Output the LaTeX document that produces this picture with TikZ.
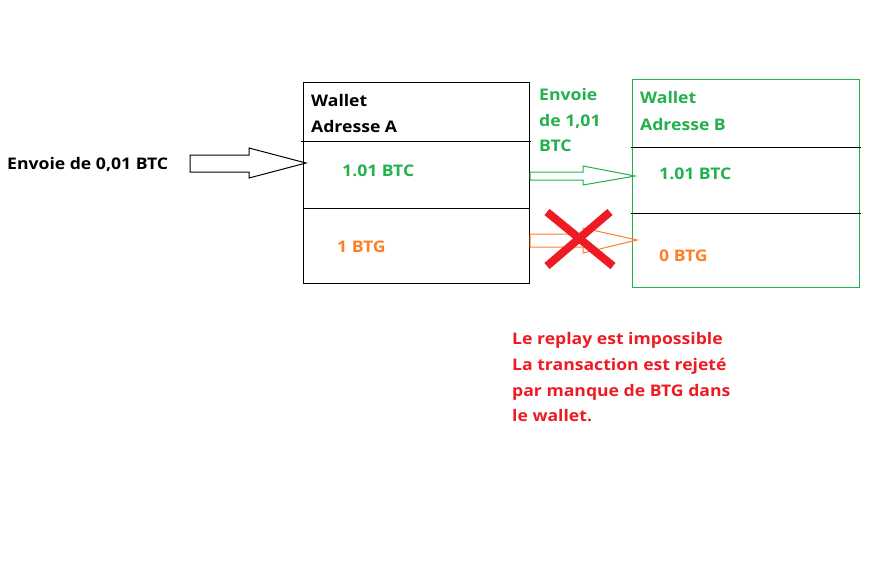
\documentclass[tikz,border=0pt]{standalone}
\usepackage{fontspec}
\setmainfont{Open Sans}[FakeStretch=1.1]
\definecolor{pgreen}{RGB}{34,177,76}
\definecolor{porange}{RGB}{255,127,39}
\definecolor{pred}{RGB}{237,28,36}
\begin{document}
\begin{tikzpicture}[x=1pt,y=-1pt,
  lbl/.style={anchor=base west,inner sep=0pt,font=\fontsize{16}{16}\selectfont\bfseries},
  wbox/.style={draw,line width=1pt,inner sep=0pt,anchor=north west},
  bigarrow/.style={line width=1pt}]
\useasboundingbox[fill=white] (0,0) rectangle (875,566);
% boxes
\node[wbox,draw=black,minimum width=226pt,minimum height=201pt] (A) at (303,82) {};
\node[wbox,draw=pgreen,minimum width=227pt,minimum height=208pt] (B) at (632,79) {};
% dividers
\draw[line width=1pt] (301,141) -- (531,141);
\draw[line width=1pt] (303,208) -- (529,208);
\draw[line width=1pt] (631,147) -- (861,147);
\draw[line width=1pt] (631,213) -- (861,213);
% texts box A
\node[lbl] (wa) at (311,106) {Wallet};
\node[lbl] (aa) at (311,132) {Adresse A};
\node[lbl,text=pgreen] (btca) at (342,176) {1.01 BTC};
\node[lbl,text=porange] (btga) at (337,252) {1 BTG};
% texts box B
\node[lbl,text=pgreen] (wb) at (640,103) {Wallet};
\node[lbl,text=pgreen] (ab) at (640,130) {Adresse B};
\node[lbl,text=pgreen] (btcb) at (659,179) {1.01 BTC};
\node[lbl,text=porange] (btgb) at (659,261) {0 BTG};
% left label
\node[lbl] (env) at (7,169) {Envoie de 0,01 BTC};
% green label
\node[lbl,text=pgreen] (g1) at (539,100) {Envoie};
\node[lbl,text=pgreen] (g2) at (539,126) {de 1,01};
\node[lbl,text=pgreen] (g3) at (539,151) {BTC};
% red text
\node[lbl,text=pred] (r1) at (512,344) {Le replay est impossible};
\node[lbl,text=pred] (r2) at (512,370) {La transaction est rejeté};
\node[lbl,text=pred] (r3) at (512,396) {par manque de BTG dans};
\node[lbl,text=pred] (r4) at (512,421) {le wallet.};
% big arrows
\draw[bigarrow] (190,155) -- (249,155) -- (249,148) -- (306,163) -- (249,178) -- (249,172) -- (190,172) -- cycle;
\draw[bigarrow,draw=pgreen] (530,172) -- (583,172) -- (583,166) -- (635,176) -- (583,185) -- (583,180) -- (530,180) -- cycle;
\draw[bigarrow,draw=porange] (530,234) -- (583,234) -- (583,228) -- (637,240) -- (583,253) -- (583,247) -- (530,247) -- cycle;
% red cross
\draw[pred,line width=8pt] (547,212) -- (613,266);
\draw[pred,line width=8pt] (610,212) -- (547,266);
\end{tikzpicture}
\end{document}
